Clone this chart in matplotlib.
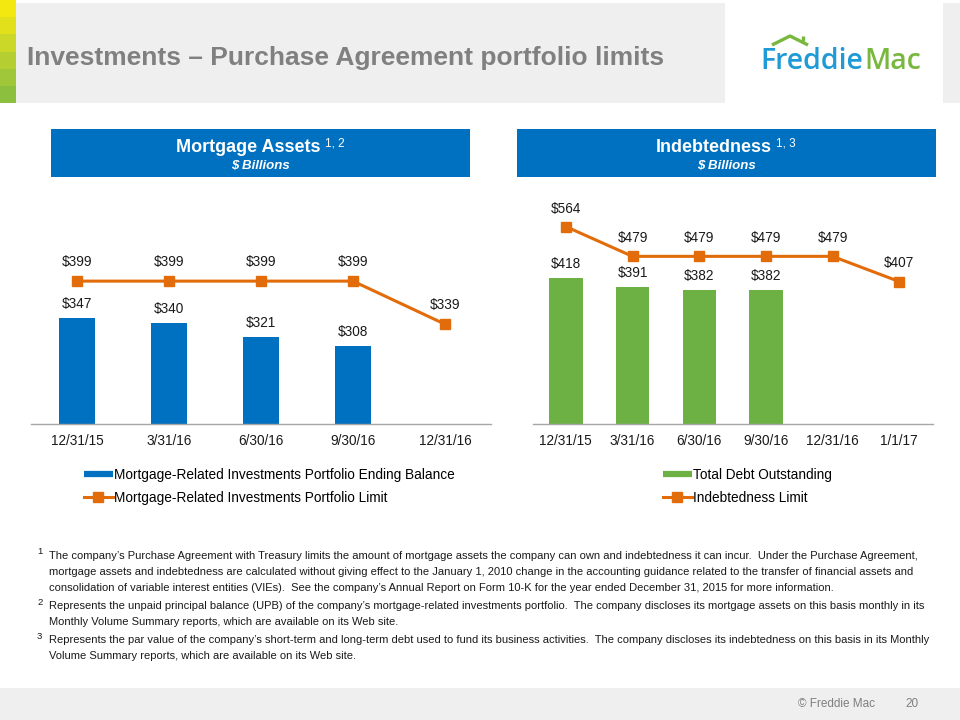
import matplotlib

matplotlib.use("agg")
import matplotlib.pyplot as plt
from matplotlib.lines import Line2D
from matplotlib.patches import Rectangle

plt.rcParams["font.family"] = ["Liberation Sans", "DejaVu Sans"]

# ---- data ----
ma_dates = ["12/31/15", "3/31/16", "6/30/16", "9/30/16", "12/31/16"]
ma_balance = [347, 340, 321, 308]
ma_limit = [399, 399, 399, 399, 339]

debt_dates = ["12/31/15", "3/31/16", "6/30/16", "9/30/16", "12/31/16", "1/1/17"]
debt_total = [418, 391, 382, 382]
debt_limit = [564, 479, 479, 479, 479, 407]

title = "Investments \u2013 Purchase Agreement portfolio limits"
footnotes = [
    ("1", [
        "The company\u2019s Purchase Agreement with Treasury limits the amount of mortgage assets the company can own and indebtedness it can incur.  Under the Purchase Agreement,",
        "mortgage assets and indebtedness are calculated without giving effect to the January 1, 2010 change in the accounting guidance related to the transfer of financial assets and",
        "consolidation of variable interest entities (VIEs).  See the company\u2019s Annual Report on Form 10-K for the year ended December 31, 2015 for more information.",
    ]),
    ("2", [
        "Represents the unpaid principal balance (UPB) of the company\u2019s mortgage-related investments portfolio.  The company discloses its mortgage assets on this basis monthly in its",
        "Monthly Volume Summary reports, which are available on its Web site.",
    ]),
    ("3", [
        "Represents the par value of the company\u2019s short-term and long-term debt used to fund its business activities.  The company discloses its indebtedness on this basis in its Monthly",
        "Volume Summary reports, which are available on its Web site.",
    ]),
]

BLUE = "#0070C0"
GREEN = "#6DB043"
ORANGE = "#E36C0A"
TXT = "#1A1A1A"

fig = plt.figure(figsize=(9.6, 7.2), dpi=100)

# background layer in pixel coordinates
bg = fig.add_axes([0, 0, 1, 1])
bg.set_xlim(0, 960)
bg.set_ylim(720, 0)
bg.axis("off")

# header band
bg.add_patch(Rectangle((0, 3), 725, 100, color="#EFEFEF", lw=0))
bg.add_patch(Rectangle((943, 3), 17, 100, color="#EFEFEF", lw=0))
strip = ["#F3E80F", "#E2E01A", "#CBD828", "#B5CF32", "#A0C73A", "#8CBF3E"]
for i, c in enumerate(strip):
    bg.add_patch(Rectangle((0, i * 17.2), 16, 17.2, color=c, lw=0))
bg.text(27, 58, title, fontsize=19, fontweight="bold", color="#808080", va="center")

# logo
bg.text(760, 69, "Freddie", fontsize=20.5, fontweight="semibold", color="#1E9AD6",
        family=["Open Sans", "DejaVu Sans"], va="baseline")
bg.text(864, 69, "Mac", fontsize=20.5, fontweight="semibold", color="#79B83F",
        family=["Open Sans", "DejaVu Sans"], va="baseline")
bg.plot([772, 790, 808], [45, 36, 45], color="#79B83F", lw=2.4, solid_capstyle="butt")
bg.plot([802.5, 802.5], [36, 41], color="#79B83F", lw=2.4, solid_capstyle="butt")

# panel headers
for x0, x1, name, sup, sup_x, name_x in [
    (51, 470, "Mortgage Assets", "1, 2", 325, 321),
    (517, 936, "Indebtedness", "1, 3", 776, 772),
]:
    bg.add_patch(Rectangle((x0, 129), x1 - x0, 48, color=BLUE, lw=0))
    bg.text(name_x, 152, name, fontsize=13, fontweight="bold", color="white",
            ha="right", va="baseline")
    bg.text(sup_x, 146, sup, fontsize=8.5, color="white", ha="left", va="baseline")
    bg.text((x0 + x1) / 2, 169, "$ Billions", fontsize=9.5, fontweight="bold",
            style="italic", color="white", ha="center", va="baseline")

# footnotes
y = 556
for num, lines in footnotes:
    bg.text(37, y - 4, num, fontsize=6.8, color=TXT, va="center")
    for ln in lines:
        bg.text(49, y, ln, fontsize=8.0, color=TXT, va="center")
        y += 16.2
    y += 1.5

# footer
bg.add_patch(Rectangle((0, 688), 960, 32, color="#EFEFEF", lw=0))
bg.text(798, 704, "\u00a9 Freddie Mac", fontsize=8.5, color="#7F7F7F", va="center")
bg.text(905, 704, "20", fontsize=8.5, color="#7F7F7F", va="center")


def style_axes(ax, labels):
    for s in ["top", "right", "left"]:
        ax.spines[s].set_visible(False)
    ax.spines["bottom"].set_color("#A6A6A6")
    ax.spines["bottom"].set_linewidth(1)
    ax.set_yticks([])
    ax.set_xticks(range(len(labels)))
    ax.set_xticklabels(labels, fontsize=9.8, color=TXT)
    ax.tick_params(axis="x", length=0, pad=7)
    ax.set_xlim(-0.5, len(labels) - 0.5)
    ax.patch.set_alpha(0)


# ---- Mortgage assets chart ----
ax1 = fig.add_axes([31 / 960, 296 / 720, 460 / 960, 215.4 / 720])
x_bar = list(range(len(ma_balance)))
x_line = list(range(len(ma_limit)))
ax1.bar(x_bar, ma_balance, width=0.39, color=BLUE, bottom=0)
ax1.plot(x_line, ma_limit, color=ORANGE, lw=2.2, marker="s", markersize=7)
ax1.set_ylim(200, 500)
style_axes(ax1, ma_dates)
for xi, v in zip(x_bar, ma_balance):
    ax1.annotate(f"${v}", (xi, v), xytext=(0, 10.5), textcoords="offset points",
                 ha="center", va="center", fontsize=9.8, color=TXT)
for xi, v in zip(x_line, ma_limit):
    ax1.annotate(f"${v}", (xi, v), xytext=(0, 13.5), textcoords="offset points",
                 ha="center", va="center", fontsize=9.8, color=TXT)
h1 = [Line2D([], [], color=BLUE, lw=4.5, solid_capstyle="butt"),
      Line2D([], [], color=ORANGE, lw=2.2, marker="s", markersize=7)]
fig.legend(h1, ["Mortgage-Related Investments Portfolio Ending Balance",
                "Mortgage-Related Investments Portfolio Limit"],
           loc="upper left", bbox_to_anchor=(84 / 960, 1 - 468 / 720),
           frameon=False, fontsize=9.8, handlelength=2.1, handletextpad=0.1,
           labelspacing=0.65, borderpad=0, borderaxespad=0)

# ---- Indebtedness chart ----
ax2 = fig.add_axes([532.5 / 960, 296 / 720, 400 / 960, 227.5 / 720])
x_bar = list(range(len(debt_total)))
x_line = list(range(len(debt_limit)))
ax2.bar(x_bar, debt_total, width=0.5, color=GREEN)
ax2.plot(x_line, debt_limit, color=ORANGE, lw=2.2, marker="s", markersize=7)
ax2.set_ylim(0, 650)
style_axes(ax2, debt_dates)
for xi, v in zip(x_bar, debt_total):
    ax2.annotate(f"${v}", (xi, v), xytext=(0, 10), textcoords="offset points",
                 ha="center", va="center", fontsize=9.8, color=TXT)
for xi, v in zip(x_line, debt_limit):
    ax2.annotate(f"${v}", (xi, v), xytext=(0, 13), textcoords="offset points",
                 ha="center", va="center", fontsize=9.8, color=TXT)
h2 = [Line2D([], [], color=GREEN, lw=4.5, solid_capstyle="butt"),
      Line2D([], [], color=ORANGE, lw=2.2, marker="s", markersize=7)]
fig.legend(h2, ["Total Debt Outstanding", "Indebtedness Limit"],
           loc="upper left", bbox_to_anchor=(663 / 960, 1 - 468 / 720),
           frameon=False, fontsize=9.8, handlelength=2.1, handletextpad=0.1,
           labelspacing=0.65, borderpad=0, borderaxespad=0)

plt.savefig("out.png", dpi=100)
plt.close()
